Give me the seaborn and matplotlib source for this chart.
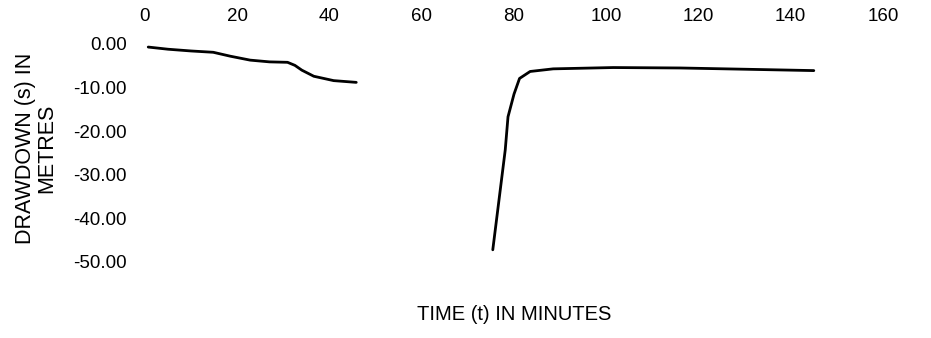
import pandas as pd
import numpy as np
import matplotlib
matplotlib.use("Agg")
import matplotlib.pyplot as plt
import seaborn as sns

# -----------------------------------------------------------------------------
# 0. SETUP
# -----------------------------------------------------------------------------
sns.set_theme(style="white")
plt.rcParams["font.family"] = ["Liberation Sans", "DejaVu Sans"]
plt.rcParams["axes.unicode_minus"] = False
plt.rcParams["text.color"] = "black"
plt.rcParams["axes.labelcolor"] = "black"
plt.rcParams["xtick.color"] = "black"
plt.rcParams["ytick.color"] = "black"

# -----------------------------------------------------------------------------
# 1. DATA
# -----------------------------------------------------------------------------
# pumping phase
pump_time = [0.7, 5, 10, 14.8, 18.5, 22.8, 27, 30.9, 32.5, 34, 36.6, 40.9, 45.8]
pump_drawdown = [-0.7, -1.2, -1.6, -1.9, -2.8, -3.7, -4.1, -4.2, -4.9, -6.0, -7.4, -8.4, -8.8]

# recovery phase
rec_time = [75.4, 78.1, 78.7, 80.0, 81.2, 83.5, 88.5, 101.5, 116, 130.6, 145]
rec_drawdown = [-47.2, -24.3, -16.7, -11.5, -7.9, -6.3, -5.7, -5.4, -5.5, -5.8, -6.1]

x_ticks = [0, 20, 40, 60, 80, 100, 120, 140, 160]
y_ticks = [0, -10, -20, -30, -40, -50]

df = pd.concat([
    pd.DataFrame({"time": pump_time, "drawdown": pump_drawdown, "phase": "pumping"}),
    pd.DataFrame({"time": rec_time, "drawdown": rec_drawdown, "phase": "recovery"}),
], ignore_index=True)

# -----------------------------------------------------------------------------
# 2. PLOT
# -----------------------------------------------------------------------------
fig = plt.figure(figsize=(9.31, 3.38), dpi=100)
ax = fig.add_axes([145 / 931, 1 - 262 / 338, (883 - 145) / 931, (262 - 44) / 338])

sns.lineplot(
    data=df, x="time", y="drawdown", units="phase", estimator=None,
    sort=False, color="black", linewidth=2.0, ax=ax
)

ax.set_xlim(0, 160)
ax.set_ylim(-50, 0)
ax.set_xticks(x_ticks)
ax.set_yticks(y_ticks)
ax.set_yticklabels([f"{v:.2f}" for v in y_ticks])

# x axis labels along the top, title of axis at the bottom
ax.xaxis.tick_top()
ax.tick_params(axis="x", length=0, pad=14, labelsize=13.5)
ax.tick_params(axis="y", length=0, pad=13, labelsize=13.5)
for side in ["top", "bottom", "left", "right"]:
    ax.spines[side].set_visible(False)

ax.set_xlabel("TIME (t) IN MINUTES", fontsize=14.5)
ax.xaxis.set_label_position("bottom")
ax.xaxis.set_label_coords(0.5, -0.195)

ax.set_ylabel("DRAWDOWN (s) IN\nMETRES", fontsize=15.5, linespacing=1.0)
ax.yaxis.set_label_coords(-0.119, 0.523)

ax.grid(False)

plt.savefig("out.png", dpi=100)
